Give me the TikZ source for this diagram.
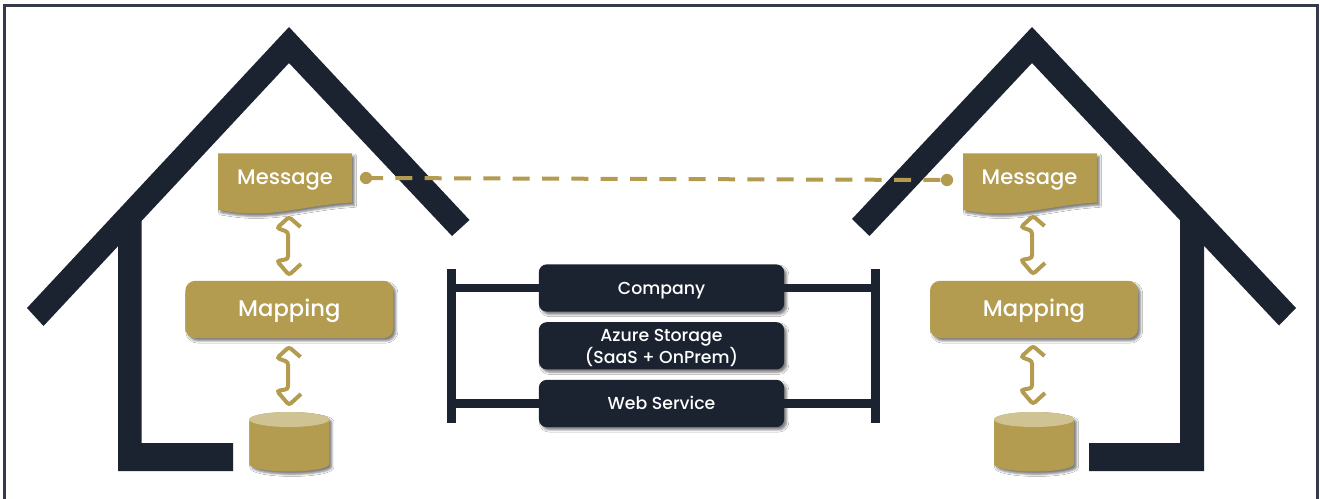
\documentclass[tikz,border=0pt]{standalone}
\usepackage{fontspec}
\setmainfont{Poppins}[UprightFont=* Medium]
\usetikzlibrary{shadows.blur}
\definecolor{navy}{HTML}{1B2230}
\definecolor{gold}{HTML}{B39B4F}
\definecolor{paleGold}{HTML}{CFC394}
\definecolor{frameCol}{HTML}{343A4A}
\newcommand{\dn}[2]{\raisebox{#1pt}[\height][\depth]{#2}}
\tikzset{
  softshadow/.style={blur shadow={shadow xshift=1.9pt,shadow yshift=-2.1pt,shadow blur radius=1.6pt,shadow opacity=50}},
  structure/.style={fill=navy,draw=none},
  goldshape/.style={fill=gold,draw=none,softshadow},
  goldbox/.style={fill=gold,rounded corners=7.5pt,minimum width=156pt,minimum height=43pt,inner sep=0pt,softshadow,text=white,font=\fontsize{17}{20}\selectfont},
  navybox/.style={fill=navy,rounded corners=6pt,minimum width=184pt,minimum height=35.5pt,inner sep=0pt,softshadow,text=white,align=center,font=\fontsize{13}{16.5}\selectfont},
  msglabel/.style={text=white,inner sep=0pt,font=\fontsize{15.8}{18}\selectfont},
  barpost/.style={fill=navy,minimum width=6.6pt,minimum height=115.5pt,inner sep=0pt},
  barline/.style={draw=navy,line width=6.2pt},
  link/.style={draw=gold,line width=3pt,dash pattern=on 12.8pt off 9.2pt},
  enddot/.style={circle,fill=gold,minimum size=9.2pt,inner sep=0pt},
  updown/.style={draw=gold,line width=3pt,rounded corners=2pt,line cap=butt},
  frameline/.style={draw=frameCol,line width=2.4pt}
}
\newcommand{\dblarrow}[2]{%
  \draw[updown,shift={(#1,#2)}] (11.5,10) -- (0,0) -- (-12,11) -- (-1,15) -- (-1,42) -- (-12,44) -- (0,58) -- (12,47);}
\newcommand{\drumshape}[2]{%
  \begin{scope}[shift={(#1,#2)}]
    \path[goldshape] (-40,7.5) -- (-40,52) arc[start angle=180,end angle=360,x radius=40,y radius=-7.5] -- (40,7.5) arc[start angle=0,end angle=180,x radius=40,y radius=-7.5] -- cycle;
    \fill[paleGold] (0,7.5) ellipse[x radius=40,y radius=7.5];
  \end{scope}}
\newcommand{\docshape}[2]{%
  \begin{scope}[shift={(#1,#2)}]
    \path[goldshape] (0,0) -- (134,0) -- (134,49) .. controls (95,51) and (70,60) .. (35,60) .. controls (20,60) and (10,58) .. (0,56.5) -- cycle;
  \end{scope}}
\begin{document}
\begin{tikzpicture}[x=0.75pt,y=-0.75pt]
\useasboundingbox (0,0) rectangle (1320,499);
\fill[white] (0,0) rectangle (1320,499);
\draw[frameline] (4.5,499) -- (4.5,5.5) -- (1317.5,5.5) -- (1317.5,499);

% left house
\fill[structure] (118,230) -- (141.5,205) -- (141.5,443) -- (233,443) -- (233,471) -- (118,471) -- cycle;
\fill[structure] (27,308) -- (289,27) -- (469.5,220) -- (452,236) -- (289,63) -- (43.5,326) -- cycle;
% right house
\fill[structure] (1180,205) -- (1204,231) -- (1204,471) -- (1089,471) -- (1089,443) -- (1180,443) -- cycle;
\fill[structure] (852,219) -- (1032,27) -- (1296,308) -- (1279,325.5) -- (1032,63) -- (869.5,236) -- cycle;

% left column
\docshape{218}{153.5}
\node[msglabel] (msgL) at (285,180.5) {Message};
\node[goldbox] (mapL) at (289.3,309.5) {\dn{-0.75}{Mapping}};
\dblarrow{289}{217}
\dblarrow{289}{347}
\drumshape{289.3}{412}
% right column
\docshape{963}{153.5}
\node[msglabel] (msgR) at (1029.5,180.5) {Message};
\node[goldbox] (mapR) at (1034,309.5) {\dn{-0.75}{Mapping}};
\dblarrow{1033}{216}
\dblarrow{1033}{346}
\drumshape{1034}{412}

% message link
\node[enddot] (dotL) at (366,178) {};
\node[enddot] (dotR) at (947,180) {};
\draw[link] (dotL.center) -- (dotR.center);

% central stack
\node[barpost] (postL) at (451.5,346) {};
\node[barpost] (postR) at (875.5,346) {};
\node[navybox] (company) at (661.5,288) {\dn{-2}{Company}};
\node[navybox] (azure) at (661.5,345.8) {\dn{-1.5}{Azure Storage}\\\dn{-1.5}{(SaaS + OnPrem)}};
\node[navybox] (web) at (661.5,403.5) {\dn{0.7}{Web Service}};
\draw[barline] (company.west) -- (postL.center |- company.west);
\draw[barline] (web.west) -- (postL.center |- web.west);
\draw[barline] (company.east) -- (postR.center |- company.east);
\draw[barline] (web.east) -- (postR.center |- web.east);
\end{tikzpicture}
\end{document}
